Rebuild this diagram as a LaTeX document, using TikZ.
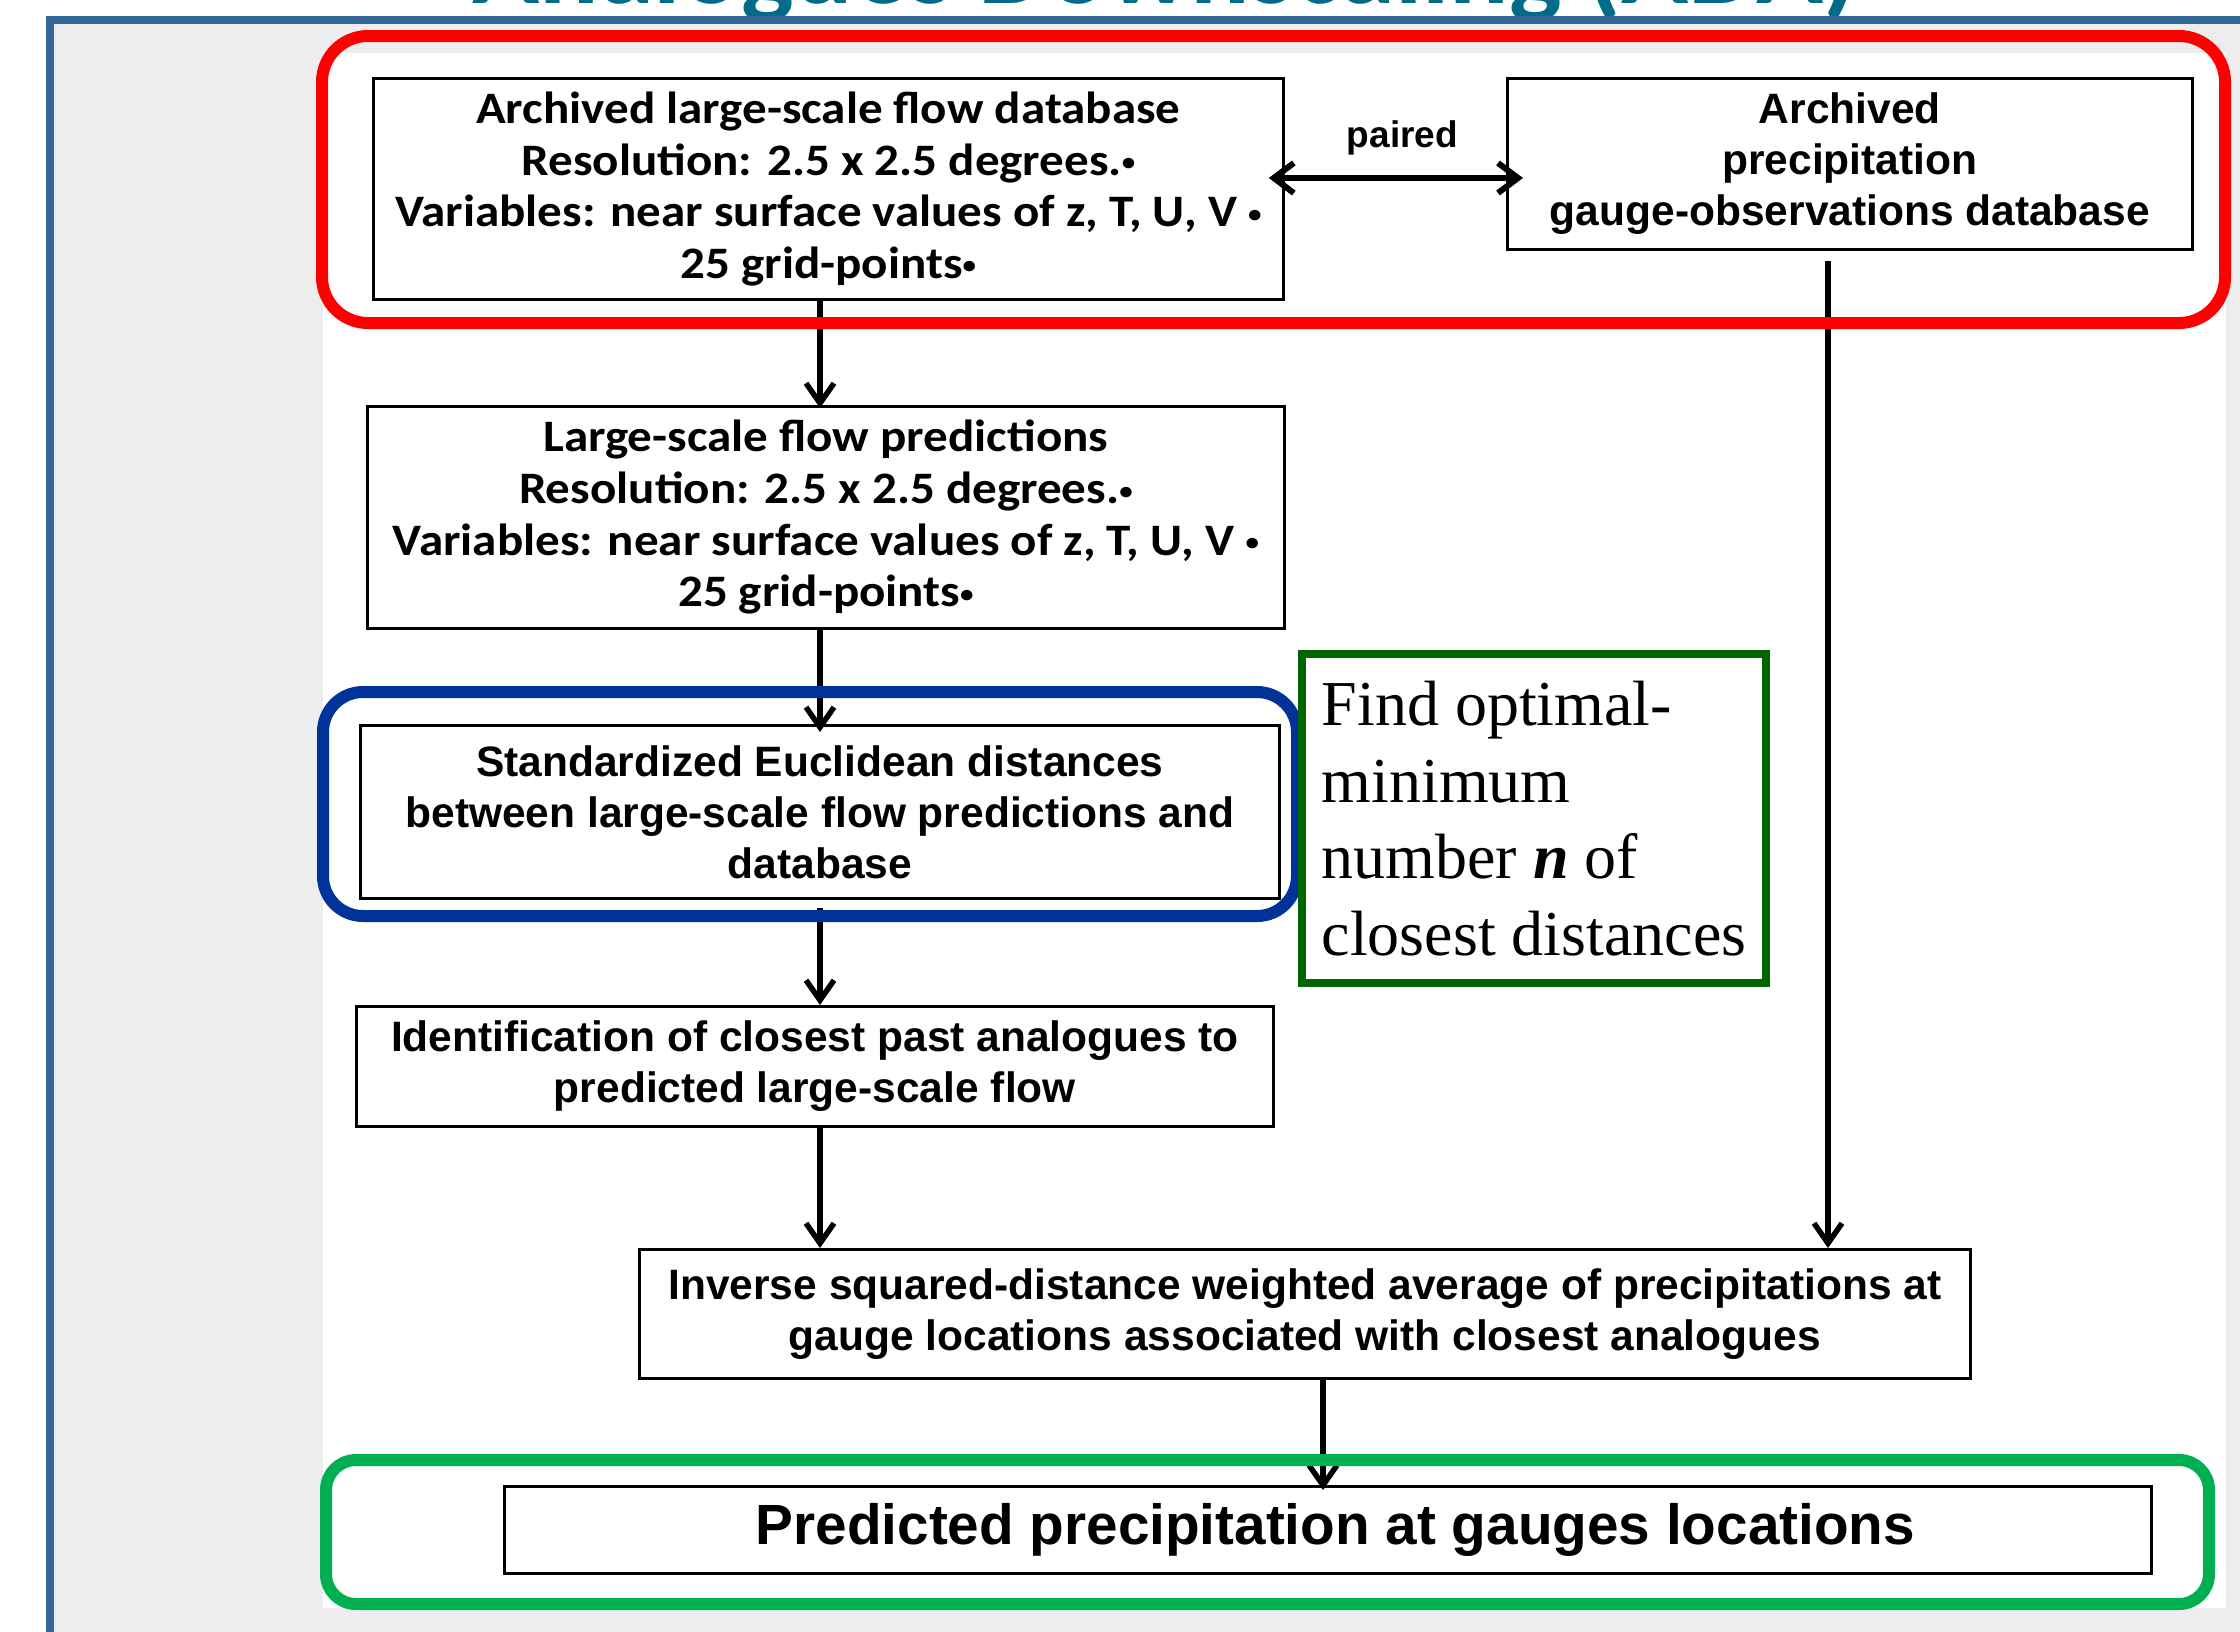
\documentclass[tikz,border=0pt]{standalone}
\usepackage{fontspec}
\setmainfont{Liberation Serif}
\newfontfamily\arialf{Liberation Sans}
\newfontfamily\calf{Carlito}[FakeStretch=1.09]
\newfontfamily\calt{Carlito}
\usetikzlibrary{arrows.meta,calc}
\definecolor{frameblue}{RGB}{51,102,153}
\definecolor{bggray}{RGB}{237,237,237}
\definecolor{titleteal}{RGB}{0,108,138}
\definecolor{hlred}{RGB}{255,0,0}
\definecolor{hlblue}{RGB}{0,51,153}
\definecolor{hlgreen}{RGB}{0,176,80}
\definecolor{notegreen}{RGB}{0,102,0}
\newcommand\smbul{\raisebox{0.1em}{\scalebox{0.55}{•}}}
\begin{document}
\begin{tikzpicture}[x=1pt,y=-1pt,
  box/.style={draw=black, line width=2.8pt, fill=white, inner sep=0pt, anchor=north west, align=center},
  calbox/.style={box, font=\calf\bfseries\fontsize{45}{51.7}\selectfont},
  arbox/.style={box, font=\arialf\bfseries\fontsize{42.5}{51}\selectfont},
  conn/.style={line width=5.5pt, -{Straight Barb[length=20pt,width=28pt]}},
  hl/.style={line width=12pt, rounded corners=46pt},
  paired/.style={line width=6pt, {Straight Barb[length=20pt,width=30pt]}-{Straight Barb[length=20pt,width=30pt]}}
]
\path[use as bounding box] (0,0) rectangle (2240,1631);
\clip (0,0) rectangle (2240,1631);
% title (cut off at the top)
\begin{scope}
\clip (0,0) rectangle (2240,16);
\node[font=\calt\bfseries\fontsize{111}{120}\selectfont, text=titleteal, anchor=base, inner sep=0pt] (title) at (1165,3) {Analogues Downscaling (ADA)};
\end{scope}
% frame and panel
\fill[bggray] (50,20) rectangle (2260,1660);
\draw[frameblue, line width=8pt] (50,1660) -- (50,20) -- (2260,20);
\fill[white] (323,53) rectangle (2226,1608);
% boxes
\node[calbox, minimum width=910pt, minimum height=221pt] (db) at (372,77) {Archived large-scale flow database\\Resolution: 2.5 x 2.5 degrees.\smbul\\Variables: near surface values of z, T, U, V \smbul\\25 grid-points\smbul};
\node[arbox, minimum width=685pt, minimum height=171pt] (gauge) at (1506,77) {Archived\\precipitation\\gauge-observations database};
\node[calbox, minimum width=917pt, minimum height=222pt] (pred) at (366,405) {Large-scale flow predictions\\Resolution: 2.5 x 2.5 degrees.\smbul\\Variables: near surface values of z, T, U, V \smbul\\25 grid-points\smbul};
\node[arbox, minimum width=919pt, minimum height=173pt] (dist) at (359,724) {Standardized Euclidean distances\\between large-scale flow predictions and\\database};
\node[arbox, minimum width=917pt, minimum height=120pt] (ident) at (355,1005) {Identification of closest past analogues to\\predicted large-scale flow};
\node[arbox, minimum width=1331pt, minimum height=129pt] (avg) at (638,1248) {Inverse squared-distance weighted average of precipitations at\\gauge locations associated with closest analogues};
\node[box, font=\arialf\bfseries\fontsize{56.7}{68}\selectfont, minimum width=1647pt, minimum height=87pt] (out) at (503,1485) {\hspace{15pt}Predicted precipitation at gauges locations};
% connectors
\coordinate (cx) at (820,0);
\coordinate (rx) at (1828,0);
\coordinate (bx) at (1323,0);
\coordinate (py) at (0,178);
\draw[conn] (db.south -| cx) -- ($(pred.north -| cx)+(0,3)$);
\draw[conn] (pred.south -| cx) -- ($(dist.north -| cx)+(0,8)$);
\draw[conn] ($(dist.south -| cx)+(0,8)$) -- (ident.north -| cx);
\draw[conn] (ident.south -| cx) -- (avg.north -| cx);
\draw[conn] ($(gauge.south -| rx)+(0,10)$) -- (avg.north -| rx);
\draw[conn] (avg.south -| bx) -- ($(out.north -| bx)+(0,5)$);
\draw[paired, shorten <=-16pt, shorten >=-17pt] (db.east |- py) -- node[pos=0.5, yshift=40pt, xshift=7pt, font=\arialf\bfseries\fontsize{37}{44}\selectfont, inner sep=0pt] (pairedlbl) {paired} (gauge.west |- py);
% highlight frames
\draw[hlred, hl] (322,36) rectangle (2225,323);
\draw[hlblue, hl, rounded corners=40pt] (323,692) rectangle (1297,916);
\draw[hlgreen, hl, rounded corners=30pt] (326,1460) rectangle (2209,1604);
% note
\node[draw=notegreen, line width=8pt, fill=white, anchor=north west, minimum width=464pt, minimum height=329pt, inner sep=0pt, align=left, font=\fontsize{64}{76.8}\selectfont] (note) at (1298,650) {Find optimal-\\minimum\\number \textbf{\textit{n}} of\\closest distances};
\end{tikzpicture}
\end{document}
